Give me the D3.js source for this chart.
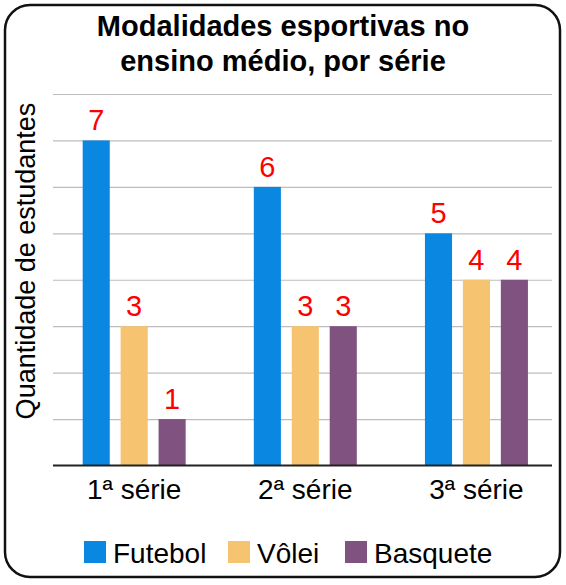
<!DOCTYPE html>
<html>
<head>
<meta charset="utf-8">
<script src="https://cdn.jsdelivr.net/npm/d3@7"></script>
<style>
  body { margin: 0; background: #fff; }
  text { font-family: "Liberation Sans", Arial, sans-serif; }
</style>
</head>
<body>
<svg id="chart" width="566" height="585"></svg>
<script>
// data
const series = ["1ª série", "2ª série", "3ª série"];
const sports = ["Futebol", "Vôlei", "Basquete"];
const futebol = [7, 6, 5];
const volei = [3, 3, 4];
const basquete = [1, 3, 4];
const yTicks = [0, 1, 2, 3, 4, 5, 6, 7, 8];

const colors = ["#0a88e1", "#f6c370", "#80527f"];
const values = [futebol, volei, basquete];

const svg = d3.select("#chart");
const groupWidth = 103;

// frame
svg.append("rect")
  .attr("x", 5).attr("y", 5)
  .attr("width", 555).attr("height", 572)
  .attr("rx", 25).attr("ry", 25)
  .attr("fill", "white")
  .attr("stroke", "#111")
  .attr("stroke-width", 2.5);

// title
svg.append("text")
  .attr("x", 283).attr("y", 36)
  .attr("text-anchor", "middle")
  .style("font-size", "29px").style("font-weight", "bold")
  .text("Modalidades esportivas no");
svg.append("text")
  .attr("x", 283).attr("y", 71)
  .attr("text-anchor", "middle")
  .style("font-size", "29px").style("font-weight", "bold")
  .text("ensino médio, por série");

// scales
let x0 = d3.scaleBand().domain(series).range([48.6, 562]);
let x1 = d3.scaleBand().domain(sports).range([0, groupWidth]).paddingInner(0.286);
let y = d3.scaleLinear().domain([0, 8]).range([465.5, 94]);

// gridlines
svg.append("g")
  .attr("transform", "translate(53,0)")
  .call(d3.axisLeft(y).tickValues(yTicks.slice(1)).tickSize(-499).tickFormat(""))
  .call(g => g.select(".domain").remove())
  .call(g => g.selectAll(".tick line").attr("stroke", "#bdbdbd").attr("stroke-width", 1.2));

// bars
let groups = svg.selectAll(".grp")
  .data(series)
  .enter().append("g")
  .attr("transform", function (d) { return "translate(" + (x0(d) + x0.bandwidth() / 2 - groupWidth / 2) + ",0)"; });

groups.selectAll("rect")
  .data(function (d, i) { return sports.map(function (s, k) { return { s: s, v: values[k][i], k: k }; }); })
  .enter().append("rect")
  .attr("x", function (d) { return x1(d.s); })
  .attr("y", function (d) { return y(d.v); })
  .attr("width", x1.bandwidth())
  .attr("height", function (d) { return y(0) - y(d.v); })
  .attr("fill", function (d) { return colors[d.k]; });

// value labels
groups.selectAll(".val")
  .data(function (d, i) { return sports.map(function (s, k) { return { s: s, v: values[k][i] }; }); })
  .enter().append("text")
  .attr("class", "val")
  .attr("x", function (d) { return x1(d.s) + x1.bandwidth() / 2; })
  .attr("y", function (d) { return y(d.v) - 10; })
  .attr("text-anchor", "middle")
  .attr("fill", "#ff0000")
  .style("font-size", "29px")
  .text(function (d) { return d.v; });

// x axis baseline + category labels
svg.append("g")
  .attr("transform", "translate(0," + y(0) + ")")
  .call(d3.axisBottom(x0).tickSize(0).tickPadding(0))
  .call(g => g.select(".domain").attr("d", "M53,0H552").attr("stroke", "#222").attr("stroke-width", 2))
  .call(g => g.selectAll(".tick text")
    .attr("y", 33).attr("dy", 0)
    .attr("fill", "#000")
    .style("font-size", "28px")
    .style("font-family", "'Liberation Sans', Arial, sans-serif"));

// y axis label
svg.append("text")
  .attr("transform", "translate(35,261) rotate(-90)")
  .attr("text-anchor", "middle")
  .style("font-size", "27px")
  .text("Quantidade de estudantes");

// legend
let legendX = [84, 228, 345];
let legend = svg.selectAll(".leg")
  .data(sports)
  .enter().append("g")
  .attr("transform", function (d, i) { return "translate(" + legendX[i] + ",541)"; });
legend.append("rect")
  .attr("width", 22).attr("height", 22)
  .attr("fill", function (d, i) { return colors[i]; });
legend.append("text")
  .attr("x", 29).attr("y", 22)
  .style("font-size", "28px")
  .text(function (d) { return d; });
</script>
</body>
</html>
